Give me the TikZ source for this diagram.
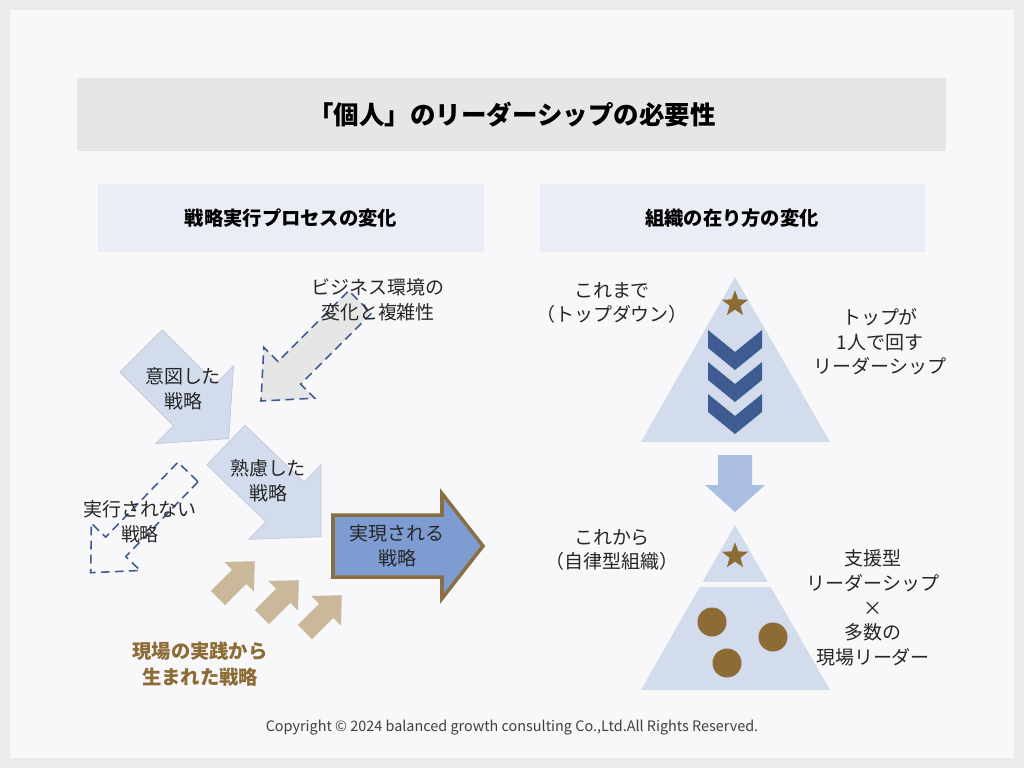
\documentclass[tikz,border=0pt]{standalone}
\usepackage{fontspec}
\setmainfont{Noto Sans CJK JP}
\usetikzlibrary{shapes.geometric}
\definecolor{paleblue}{HTML}{D2DCEC}
\definecolor{midblue}{HTML}{A9BEE2}
\definecolor{darkblue}{HTML}{3E5C92}
\definecolor{realblue}{HTML}{7F9CD2}
\definecolor{goldbrown}{HTML}{8C6B35}
\definecolor{tan}{HTML}{C9B89A}
\definecolor{framegray}{HTML}{EBEBEB}
\definecolor{pagebg}{HTML}{F8F8FB}
\definecolor{headbg}{HTML}{E6E6E6}
\definecolor{subbg}{HTML}{EAECF6}
% block arrow: [style]{tail}{angle}{length}{shaft width}{head width}{head length}
\newcommand{\blockarrow}[7][]{%
  \draw[#1, shift={#2}, rotate=#3] (0,-#5/2) -- (#4-#7,-#5/2) -- (#4-#7,-#6/2) -- (#4,0)
    -- (#4-#7,#6/2) -- (#4-#7,#5/2) -- (0,#5/2) -- cycle;}
\begin{document}
\begin{tikzpicture}[x=0.02cm, y=-0.02cm,
    label/.style={align=center, font=\fontsize{10.8}{14}\selectfont, text=black!85},
    plan/.style={fill=paleblue, draw=paleblue!80!gray},
    dashline/.style={draw=darkblue, dash pattern=on 5pt off 3pt, line width=0.9pt},
    chevron/.style={fill=darkblue},
    leaderstar/.style={star, star points=5, star point ratio=2.4, fill=goldbrown, inner sep=0pt, minimum size=0.55cm},
    member/.style={circle, fill=goldbrown, inner sep=0pt, minimum size=0.58cm}]
    \fill[framegray] (0,0) rectangle (1024,768);
    \fill[pagebg] (10,10) rectangle (1014,758);
    \useasboundingbox (0,0) rectangle (1024,768);

    % headers
    \fill[headbg] (77,78) rectangle (946,151);
    \node[font=\bfseries\fontsize{14.5}{17}\selectfont] (title) at (512,115) {「個人」のリーダーシップの必要性};
    \fill[subbg] (98,184) rectangle (484,252);
    \fill[subbg] (540,184) rectangle (925,252);
    \node[font=\bfseries\fontsize{11}{13}\selectfont] (lefthead) at (291,218) {戦略実行プロセスの変化};
    \node[font=\bfseries\fontsize{11}{13}\selectfont] (righthead) at (732,218) {組織の在り方の変化};

    % strategy arrows
    \blockarrow[plan]{(141,351)}{-45}{124}{60}{110}{48}
    \blockarrow[dashline, fill=headbg]{(360,302)}{-135}{140}{32}{72}{40}
    \blockarrow[plan]{(226,445)}{-44}{132}{55}{104}{50}
    \blockarrow[dashline, fill=pagebg]{(188,472)}{-134}{140}{28}{68}{36}
    \blockarrow[fill=realblue, draw=goldbrown!80!gray, line width=2pt]{(333,546)}{0}{150}{62}{105}{41}
    \foreach \tx/\ty in {218/598, 262/617, 305/632}{
        \blockarrow[fill=tan, draw=none]{(\tx,\ty)}{45}{52}{20}{42}{22}
    }

    \node[label] (env) at (378,300) {ビジネス環境の\\変化と複雑性};
    \node[label] (intended) at (183,389) {意図した\\戦略};
    \node[label] (deliberate) at (268,481) {熟慮した\\戦略};
    \node[label] (unrealized) at (140,522) {実行されない\\戦略};
    \node[label] (realized) at (397,546) {実現される\\戦略};
    \node[label, font=\bfseries\fontsize{11}{15}\selectfont, text=goldbrown] (emergent) at (200,664) {現場の実践から\\生まれた戦略};

    % organisation
    \fill[paleblue] (735,277) -- (830,442) -- (641,442) -- cycle;
    \node[leaderstar] (topstar) at (735,304) {};
    \foreach \cy in {330, 362, 394}
        \fill[chevron] (708,\cy) -- (735,\cy+22) -- (762,\cy) -- (762,\cy+18) -- (735,\cy+40) -- (708,\cy+18) -- cycle;
    \fill[midblue] (718,455) -- (752,455) -- (752,485) -- (765,485) -- (735,512) -- (705,485) -- (718,485) -- cycle;
    \fill[paleblue] (735,525) -- (830,690) -- (641,690) -- cycle;
    \fill[pagebg] (690,582) rectangle (780,587);
    \node[leaderstar] (supstar) at (735,556) {};
    \node[member] (m1) at (712,622) {};
    \node[member] (m2) at (773,637) {};
    \node[member] (m3) at (727,663) {};

    \node[label] (before) at (612,303) {これまで\\（トップダウン）};
    \node[label] (oneleader) at (880,342) {トップが\\1人で回す\\リーダーシップ};
    \node[label] (after) at (612,550) {これから\\（自律型組織）};
    \node[label] (support) at (873,608) {支援型\\リーダーシップ\\×\\多数の\\現場リーダー};

    \node[font=\fontsize{8.2}{10}\selectfont, text=black!75] (copy) at (512,728) {Copyright © 2024 balanced growth consulting Co.,Ltd.All Rights Reserved.};
\end{tikzpicture}
\end{document}
